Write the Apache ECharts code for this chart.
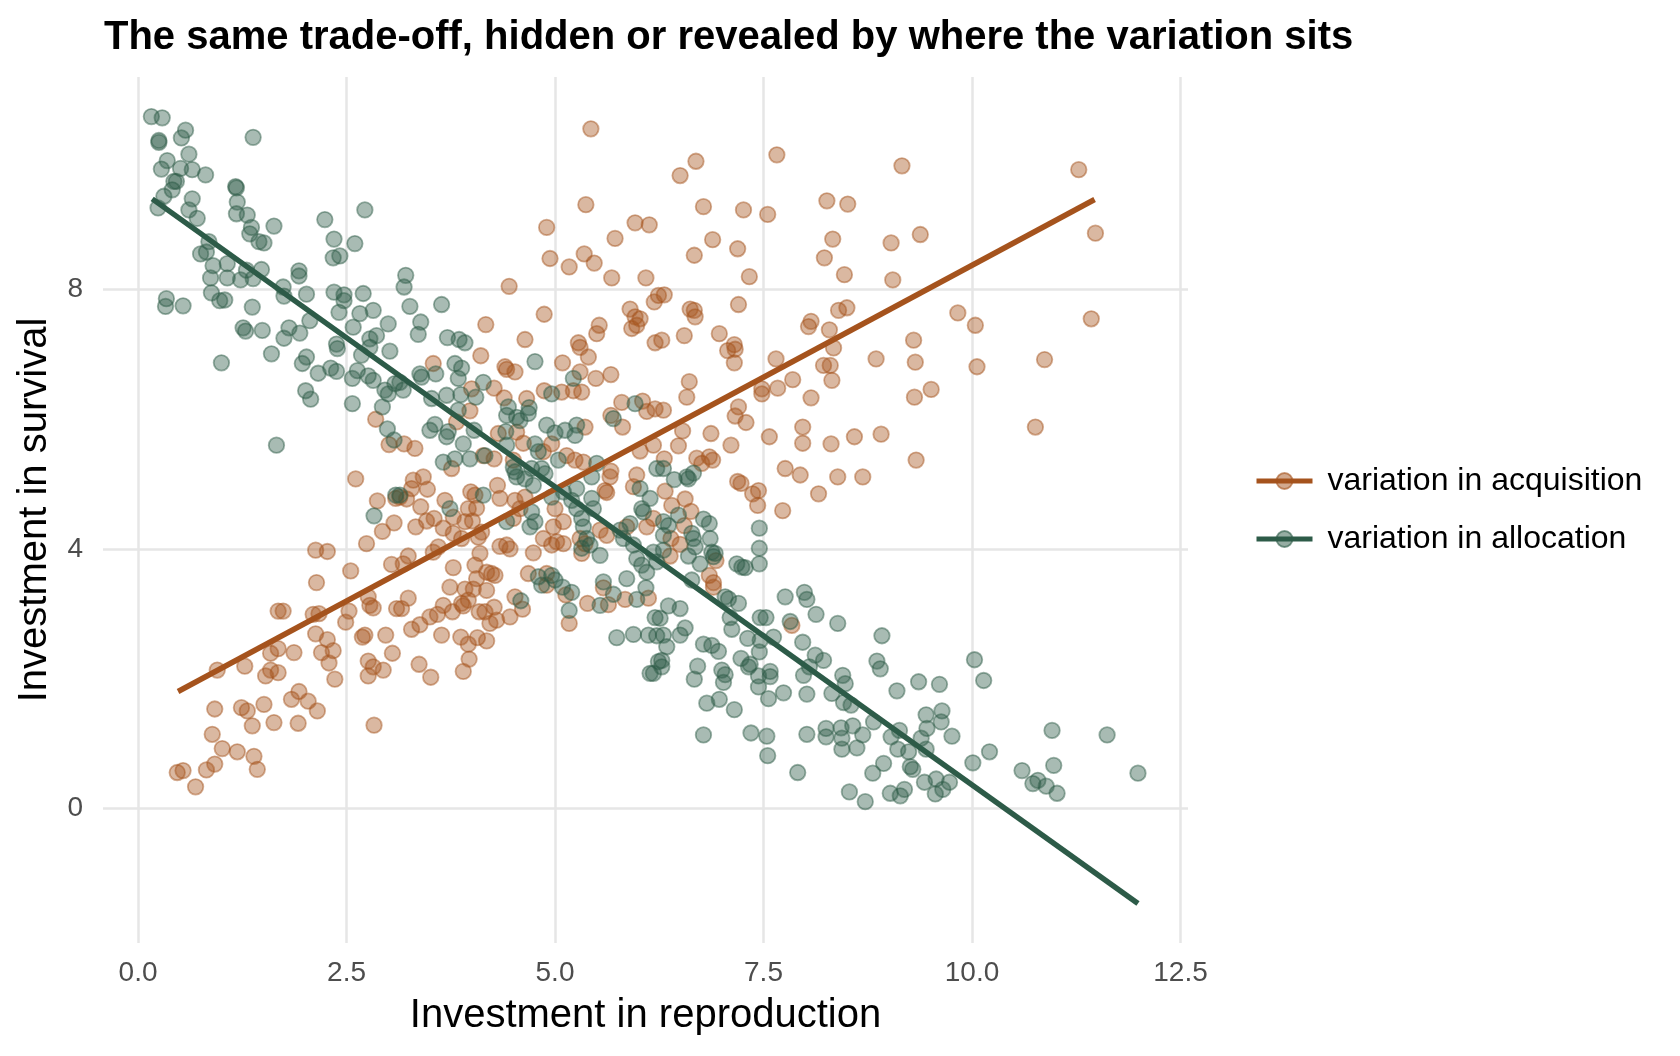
<!DOCTYPE html>
<html>
<head>
<meta charset="utf-8">
<title>trade-off</title>
<script src="https://cdn.jsdelivr.net/npm/echarts@6/dist/echarts.min.js"></script>
<style>
  html, body { margin: 0; padding: 0; background: #fff; }
  #chart { width: 1680px; height: 1056px; }
</style>
</head>
<body>
<div id="chart"></div>
<script>
// points: [reproduction, survival]
var acquisitionPoints = [
  [5.43,10.48],[5.37,9.31],[4.90,8.96],[4.94,8.48],[5.17,8.35],[5.35,8.55],[5.47,8.41],[5.72,8.79],[5.96,9.03],[6.13,9.00],
  [5.68,8.18],[6.09,8.18],[4.45,8.05],[4.87,7.62],[4.17,7.46],[4.64,7.23],[5.28,7.18],[5.53,7.45],[5.50,7.32],[5.90,7.70],
  [5.96,7.58],[6.02,7.55],[5.92,7.40],[5.98,7.45],[6.19,7.81],[6.24,7.91],[6.20,7.18],
  [6.69,9.98],[6.50,9.76],[7.66,10.08],[9.16,9.91],[6.78,9.28],[7.26,9.23],[7.55,9.16],[8.26,9.37],[8.51,9.32],[8.33,8.78],
  [8.23,8.49],[8.47,8.23],[9.03,8.72],[9.05,8.15],[9.38,8.85],[6.89,8.77],[6.67,8.53],[7.19,8.63],[7.33,8.20],[6.31,7.92],
  [6.62,7.70],[6.67,7.68],[6.68,7.58],[7.20,7.77],[6.55,7.29],[6.97,7.32],[7.15,7.15],[8.07,7.51],[8.04,7.43],[8.29,7.38],
  [8.40,7.68],[8.50,7.72],[9.30,7.22],[6.28,7.22],
  [11.28,9.85],[11.48,8.87],[9.83,7.64],[10.04,7.45],[11.43,7.55],
  [2.85,6.00],[3.01,5.61],[2.61,5.08],[2.87,4.74],[3.09,4.78],[3.07,4.40],[2.93,4.27],[2.74,4.08],[2.13,3.98],[2.27,3.96],
  [2.55,3.66],[2.14,3.48],[3.04,3.76],
  [4.11,6.98],[3.54,6.86],[4.40,6.81],[4.42,6.77],[4.52,6.73],[5.09,6.87],[5.40,6.96],[5.30,7.11],[5.30,6.73],[5.49,6.63],
  [5.67,6.69],[4.27,6.48],[4.00,6.47],[4.87,6.44],[5.08,6.42],[5.22,6.44],[5.32,6.42],[4.39,6.33],[4.66,6.32],[5.80,6.26],
  [6.05,6.28],[6.10,6.12],[6.20,6.16],[5.67,6.06],[5.81,5.88],[5.36,5.88],[3.98,6.13],[3.82,5.96],[4.32,5.78],[4.54,5.80],
  [4.62,5.63],[3.19,5.62],[3.32,5.55],[4.96,5.62],[4.86,5.50],[5.14,5.44],[5.24,5.37],[5.34,5.34],[4.14,5.44],[4.27,5.39],
  [4.50,5.37],[3.76,5.24],[6.02,5.51],[6.18,5.60],[5.67,5.20],[5.66,5.11],[5.98,5.14],[5.94,4.96],[5.60,4.90],[5.62,4.87],
  [3.30,5.06],[3.42,5.11],[3.28,4.93],[3.47,4.92],[3.14,4.80],[3.22,4.77],[3.39,4.65],[3.68,4.75],[3.99,4.88],[4.04,4.83],
  [4.31,4.98],[4.34,4.78],[4.52,4.75],[4.64,4.80],[3.96,4.62],[4.06,4.63],[3.78,4.49],[3.55,4.47],[3.46,4.43],[3.33,4.34],
  [3.66,4.32],[3.92,4.42],[4.01,4.43],[4.12,4.26],[3.78,4.24],[3.88,4.16],[4.08,4.18],[4.50,4.47],[4.58,4.62],[5.00,4.62],
  [5.10,4.42],[4.98,4.34],[4.86,4.16],[5.02,4.11],[5.10,4.08],[4.74,3.94],[4.96,4.06],[4.34,4.04],[4.42,4.06],[4.46,4.00],
  [4.10,3.93],[3.60,4.03],[3.54,3.95],[3.24,3.89],[3.18,3.77],[3.78,3.71],[4.04,3.75],[4.18,3.64],[4.24,3.62],[4.28,3.59],
  [4.06,3.54],[4.68,3.62],[4.90,3.62],[5.30,4.16],[5.36,4.08],[5.32,3.93],[5.54,4.29],[5.62,4.21],[5.86,4.34],[6.10,4.34],
  [6.18,4.47],
  [7.07,7.06],[7.16,7.08],[7.15,6.87],[7.65,6.93],[8.34,7.10],[8.22,6.83],[8.30,6.83],[8.32,6.60],[8.85,6.93],[9.32,6.88],
  [9.31,6.34],[6.61,6.58],[6.58,6.34],[7.85,6.61],[7.67,6.48],[7.48,6.47],[7.48,6.39],[8.07,6.33],[6.30,6.14],[7.20,6.19],
  [7.16,6.05],[7.29,5.95],[6.53,5.82],[6.87,5.78],[6.48,5.59],[7.11,5.60],[7.57,5.73],[7.97,5.88],[7.97,5.63],[8.31,5.62],
  [8.59,5.73],[8.91,5.77],[9.33,5.37],[6.70,5.40],[6.85,5.42],[6.89,5.37],[6.76,5.32],[6.31,5.39],[7.76,5.24],[7.94,5.14],
  [8.39,5.11],[8.69,5.11],[8.16,4.85],[7.73,4.59],[7.19,5.04],[7.23,5.01],[7.37,4.85],[7.44,4.90],[7.43,4.67],[6.32,4.89],
  [6.56,4.77],[6.40,4.67],[6.63,4.58],[6.55,4.36],[6.39,4.16],[6.50,4.07],[6.38,3.89],[6.93,3.82],[6.85,3.59],[6.90,3.48],
  [10.06,6.81],[10.87,6.92],[9.51,6.46],[10.76,5.88],
  [1.68,3.04],[1.74,3.04],[2.10,2.99],[2.17,3.00],[2.53,3.04],[2.49,2.87],[2.76,3.26],[2.78,3.13],[2.82,3.09],[3.10,3.08],
  [2.13,2.69],[2.27,2.60],[2.20,2.40],[2.34,2.43],[2.29,2.24],[2.36,1.99],[2.69,2.64],[2.72,2.67],[2.97,2.67],[3.05,2.39],
  [2.76,2.27],[2.82,2.18],[2.94,2.13],[2.76,2.04],[2.83,1.28],[1.87,2.40],[1.68,2.46],[1.59,2.39],[1.59,2.13],[1.68,2.09],
  [1.53,2.04],[1.28,2.19],[0.95,2.13],[0.92,1.53],[1.24,1.55],[1.31,1.50],[1.51,1.60],[1.37,1.27],[1.63,1.32],[1.92,1.31],
  [1.84,1.68],[1.93,1.80],[2.04,1.65],[2.15,1.50],[0.89,1.14],[1.01,0.92],[1.19,0.87],[1.39,0.80],[1.43,0.60],[0.92,0.68],
  [0.82,0.59],[0.47,0.55],[0.54,0.58],[0.69,0.33],
  [3.24,3.24],[3.16,3.08],[3.74,3.41],[3.92,3.38],[4.02,3.38],[4.18,3.36],[3.66,3.13],[3.50,2.95],[3.59,2.99],[3.38,2.83],
  [3.28,2.76],[3.77,3.03],[3.88,3.16],[3.96,3.21],[3.90,3.12],[4.09,3.03],[4.16,3.03],[4.27,3.10],[4.22,2.85],[4.30,2.90],
  [4.46,2.95],[4.52,3.26],[4.61,3.07],[3.64,2.67],[3.87,2.64],[3.96,2.53],[4.07,2.63],[4.18,2.58],[3.97,2.30],[3.90,2.11],
  [3.37,2.22],[3.51,2.02],[5.13,3.29],[5.17,2.85],[5.39,3.16],[5.58,3.40],[5.64,3.14],[5.84,3.22],[6.12,3.24],[4.90,3.44],
  [6.90,3.41],[7.84,2.82]
];

var allocationPoints = [
  [0.16,10.67],[0.29,10.65],[0.57,10.46],[0.52,10.34],[0.25,10.30],[0.25,10.27],[1.38,10.35],[0.61,10.09],[0.35,9.99],[0.28,9.86],
  [0.51,9.87],[0.65,9.85],[0.81,9.77],[0.43,9.67],[0.46,9.67],[0.41,9.54],[0.31,9.44],[0.24,9.26],[0.65,9.40],[0.61,9.23],
  [0.71,9.10],[1.17,9.59],[1.18,9.57],[1.19,9.35],[1.18,9.17],[1.31,9.15],[1.36,8.96],[1.34,8.86],[1.63,8.98],[1.45,8.74],
  [1.51,8.72],[0.85,8.74],[0.75,8.55],[0.82,8.58],[0.90,8.37],[0.87,8.18],[1.07,8.40],[1.07,8.18],[1.23,8.15],[1.38,8.17],
  [1.48,8.31],[1.30,8.30],[0.88,7.95],[0.98,7.83],[1.04,7.84],[0.34,7.86],[0.33,7.74],[0.54,7.75],[1.37,7.73],[1.26,7.41],
  [1.29,7.36],[1.49,7.37],[1.74,8.04],[1.75,7.90],[1.93,8.29],[1.93,8.21],[2.02,7.93],[1.81,7.41],[1.94,7.33],[1.75,7.25],
  [2.06,7.52],[2.24,9.08],[2.35,8.78],[2.60,8.71],[2.72,9.23],[2.34,8.49],[2.42,8.52],[2.35,7.96],[2.47,7.92],[2.47,7.83],
  [2.70,7.94],[2.41,7.65],[2.66,7.63],[2.82,7.68],[2.58,7.42],[3.00,7.47],[2.86,7.29],[2.78,7.24],[2.38,7.16],
  [3.21,8.22],[3.19,8.04],[3.26,7.74],[3.64,7.77],[3.39,7.50],[3.36,7.31],[3.71,7.26],[3.85,7.23],[3.92,7.18],
  [1.00,6.87],[1.60,7.01],[2.02,6.96],[1.97,6.86],[2.16,6.71],[2.31,6.79],[2.38,6.74],[2.39,7.09],[2.01,6.44],[2.07,6.31],
  [1.66,5.60],[2.57,6.24],[2.57,6.63],[2.63,6.75],[2.68,6.99],[2.78,7.11],[2.76,6.67],[2.82,6.60],[3.02,7.05],[2.96,6.45],
  [3.00,6.39],[2.93,6.19],[2.99,5.85],[3.08,6.55],[3.07,5.68],[3.09,4.83],[2.83,4.51],
  [3.14,6.57],[3.18,6.45],[3.38,6.70],[3.40,6.65],[3.57,6.70],[3.80,6.86],[3.88,6.79],[3.84,6.63],[3.70,6.37],[3.87,6.38],
  [4.05,6.34],[4.14,6.57],[3.52,6.32],[4.76,6.89],[5.22,6.63],[4.96,6.39],[3.84,6.14],[4.44,6.19],[4.42,6.06],[4.54,6.03],
  [4.58,5.98],[4.69,6.18],[4.68,6.09],[3.56,5.92],[3.50,5.83],[3.72,5.81],[3.70,5.73],[4.03,5.83],[3.90,5.62],[4.41,5.81],
  [4.90,5.91],[5.00,5.79],[5.12,5.83],[5.24,5.75],[5.26,5.91],[5.70,6.01],[5.96,6.24],[3.66,5.34],[3.80,5.39],[3.98,5.39],
  [4.16,5.44],[4.42,5.60],[4.76,5.62],[4.80,5.50],[4.50,5.26],[4.52,5.19],[4.54,5.11],[4.64,5.08],[4.74,4.98],[4.72,5.24],
  [4.84,5.24],[4.88,5.16],[5.04,5.37],[4.96,4.80],[5.10,4.88],[5.26,4.93],[5.44,5.11],[5.50,5.32],[3.14,4.83],[4.14,4.83],
  [3.74,4.62],[4.42,4.42],[4.72,4.57],[4.76,4.42],[4.70,4.34],[5.20,4.75],[5.26,4.62],[5.32,4.47],[5.34,4.34],[5.44,4.78],
  [5.46,4.62],[6.04,4.62],[6.06,4.57],[6.02,4.93],[6.22,5.24],[6.14,4.78],[5.90,4.39],[5.78,4.29],[5.38,4.16],[5.42,4.06],
  [5.32,4.01],[5.54,3.90],[5.82,4.16],[5.94,4.06],[5.98,3.85],[6.04,3.75],[6.10,3.64],[6.18,3.95],[6.22,3.80],[5.86,3.54],
  [5.58,3.49],[4.80,3.57],[4.96,3.59],[5.00,3.52],
  [6.30,5.24],[6.43,5.07],[6.58,5.11],[6.66,5.17],[6.60,5.08],[6.48,4.52],[6.30,4.42],[6.36,4.36],[6.30,4.21],[6.78,4.46],
  [6.85,4.39],[6.64,4.24],[6.66,4.16],[6.86,4.16],[6.68,4.03],[6.60,3.89],[6.74,3.77],[6.88,3.95],[6.90,3.88],[6.92,3.93],
  [7.45,4.32],[7.45,4.01],[7.45,3.77],[7.18,3.77],[7.24,3.72],[7.28,3.71],[6.64,3.52],[6.30,3.98],
  [4.59,3.20],[4.84,3.44],[5.09,3.41],[5.20,3.33],[5.17,3.05],[5.54,3.13],[5.70,3.30],[5.98,3.22],[6.09,3.40],[6.20,2.94],
  [5.74,2.63],[5.94,2.68],[6.12,2.67],[6.22,2.66],[6.14,2.08],[6.18,2.08],[6.24,2.26],
  [6.36,3.12],[6.50,3.08],[6.26,2.93],[6.30,2.67],[6.34,2.49],[6.50,2.67],[6.56,2.78],[6.28,2.28],[6.28,2.18],[6.78,2.53],
  [6.88,2.51],[6.96,2.42],[6.71,2.19],[6.67,1.99],[7.00,2.13],[7.04,2.06],[7.02,1.94],[6.82,1.62],[6.97,1.68],[7.15,1.52],
  [6.78,1.13],[7.04,3.26],[7.08,3.23],[7.20,3.16],[7.10,2.94],[7.12,2.76],[7.31,2.62],[7.23,2.31],[7.32,2.18],[7.34,2.22],
  [7.46,2.94],[7.53,2.94],[7.46,2.59],[7.45,2.41],[7.62,2.64],[7.44,2.04],[7.58,2.11],[7.58,2.03],[7.44,1.87],[7.56,1.69],
  [7.74,1.78],[7.35,1.16],[7.54,1.11],[7.55,0.81],[7.76,3.26],[7.99,3.33],[8.02,3.22],[8.13,2.99],[7.82,2.88],[8.39,2.85],
  [7.97,2.56],[8.12,2.36],[8.22,2.28],[8.05,2.18],[7.98,2.05],[8.02,1.76],[8.32,1.77],[8.45,2.05],[8.48,1.92],[8.46,1.63],
  [8.55,1.59],[8.02,1.14],[8.25,1.23],[8.25,1.10],[8.43,1.24],[8.44,1.08],[8.57,1.27],[8.69,1.13],[8.62,0.93],[8.44,0.91],
  [8.82,1.33],[7.91,0.55],[8.53,0.25],[8.72,0.10],[8.92,2.66],[8.86,2.27],[8.90,2.15],[9.10,1.81],[9.03,1.10],[9.13,1.20],
  [9.11,0.91],[9.24,0.87],[8.94,0.69],[8.81,0.54],[9.26,0.64],[9.29,0.60],[9.02,0.23],[9.14,0.19],[9.19,0.29],[9.36,1.95],
  [10.03,2.29],[10.14,1.97],[9.61,1.91],[9.45,1.44],[9.64,1.50],[9.63,1.33],[9.46,1.23],[9.39,1.08],[9.45,0.91],[9.76,1.11],
  [10.21,0.87],[10.01,0.70],[9.43,0.40],[9.57,0.45],[9.73,0.40],[9.65,0.29],[9.56,0.22],[10.96,1.20],[11.62,1.13],[11.99,0.54],
  [10.98,0.66],[10.60,0.58],[10.73,0.38],[10.79,0.43],[10.89,0.34],[11.02,0.23]
];

// fitted lines, endpoints
var acquisitionLine = [[0.48, 1.80], [11.47, 9.39]];
var allocationLine = [[0.17, 9.40], [11.99, -1.47]];

var xTicks = [0, 2.5, 5, 7.5, 10, 12.5];
var yTicks = [0, 4, 8];
var seriesNames = ['variation in acquisition', 'variation in allocation'];

var acqColor = '#A5531D';
var allocColor = '#2D5B48';

var myChart = echarts.init(document.getElementById('chart'));

var option = {
  animation: false,
  backgroundColor: '#fff',
  textStyle: { fontFamily: '"Liberation Sans", Arial, sans-serif' },
  title: {
    text: 'The same trade-off, hidden or revealed by where the variation sits',
    left: 104,
    top: 18,
    padding: 0,
    textStyle: { fontSize: 40, fontWeight: 'bold', color: '#000' }
  },
  legend: {
    data: seriesNames,
    orient: 'vertical',
    left: 1254,
    top: 465,
    padding: 0,
    itemWidth: 56,
    itemHeight: 20,
    itemGap: 26,
    lineStyle: { width: 5 },
    textStyle: { fontSize: 32, lineHeight: 32, color: '#000', padding: [0, 0, 0, 10] }
  },
  grid: { left: 103, top: 77, width: 1085, height: 866 },
  xAxis: {
    type: 'value',
    min: -0.42,
    max: 12.59,
    name: 'Investment in reproduction',
    nameLocation: 'middle',
    nameGap: 53,
    nameTextStyle: { fontSize: 40, color: '#000' },
    axisLine: { show: false },
    axisTick: { show: false, customValues: xTicks },
    axisLabel: {
      customValues: xTicks,
      formatter: function (v) { return v.toFixed(1); },
      fontSize: 28,
      color: '#4D4D4D',
      margin: 16
    },
    splitLine: { show: true, lineStyle: { color: '#E6E6E6', width: 2.5 } }
  },
  yAxis: {
    type: 'value',
    min: -2.08,
    max: 11.28,
    name: 'Investment in survival',
    nameLocation: 'middle',
    nameGap: 48,
    nameTextStyle: { fontSize: 40, color: '#000' },
    axisLine: { show: false },
    axisTick: { show: false, customValues: yTicks },
    axisLabel: {
      customValues: yTicks,
      formatter: function (v) { return String(v); },
      fontSize: 28,
      color: '#4D4D4D',
      margin: 20
    },
    splitLine: { show: true, lineStyle: { color: '#E6E6E6', width: 2.5 } }
  },
  series: [
    {
      name: seriesNames[0],
      type: 'line',
      data: acquisitionLine,
      z: 5,
      showSymbol: false,
      symbol: 'circle',
      itemStyle: { color: 'rgba(165,83,29,0.5)', borderColor: 'rgba(165,83,29,0.6)', borderWidth: 1.5 },
      lineStyle: { color: acqColor, width: 5.5 }
    },
    {
      name: seriesNames[1],
      type: 'line',
      data: allocationLine,
      z: 6,
      showSymbol: false,
      symbol: 'circle',
      itemStyle: { color: 'rgba(45,91,72,0.5)', borderColor: 'rgba(45,91,72,0.6)', borderWidth: 1.5 },
      lineStyle: { color: allocColor, width: 5.5 }
    },
    {
      name: seriesNames[0],
      type: 'scatter',
      data: acquisitionPoints,
      z: 2,
      symbolSize: 15.5,
      itemStyle: { color: 'rgba(165,83,29,0.52)', borderColor: 'rgba(165,83,29,0.6)', borderWidth: 1.8 }
    },
    {
      name: seriesNames[1],
      type: 'scatter',
      data: allocationPoints,
      z: 3,
      symbolSize: 15.5,
      itemStyle: { color: 'rgba(45,91,72,0.52)', borderColor: 'rgba(45,91,72,0.6)', borderWidth: 1.8 }
    }
  ]
};

myChart.setOption(option);
</script>
</body>
</html>
